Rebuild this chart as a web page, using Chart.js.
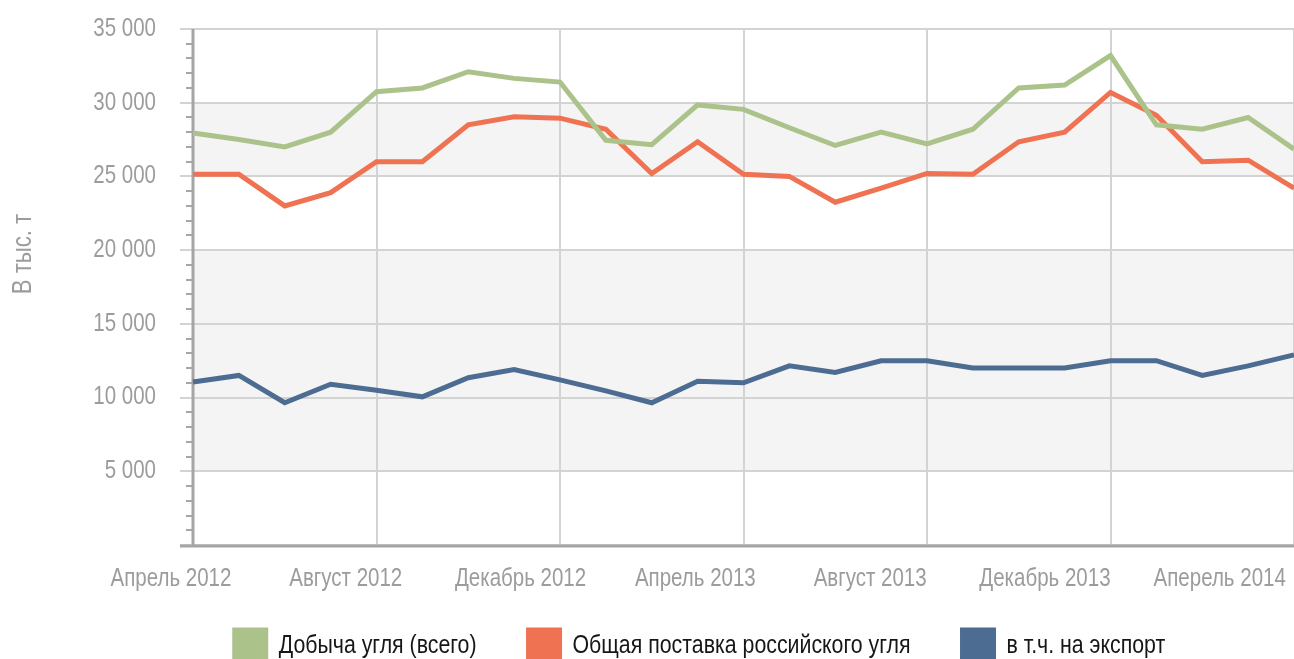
<!DOCTYPE html>
<html>
<head>
<meta charset="utf-8">
<script src="https://cdn.jsdelivr.net/npm/chart.js@4.4.1/dist/chart.umd.min.js"></script>
<style>
  html, body { margin: 0; padding: 0; background: #ffffff; width: 1294px; height: 659px; overflow: hidden; }
  #wrap { position: relative; width: 1400px; height: 671px; }
</style>
</head>
<body>
<div id="wrap"><canvas id="chart" width="1400" height="671"></canvas></div>
<script>
// ---- Data ----
const months = [
  'Апрель 2012', 'Май 2012', 'Июнь 2012', 'Июль 2012', 'Август 2012', 'Сентябрь 2012',
  'Октябрь 2012', 'Ноябрь 2012', 'Декабрь 2012', 'Январь 2013', 'Февраль 2013', 'Март 2013',
  'Апрель 2013', 'Май 2013', 'Июнь 2013', 'Июль 2013', 'Август 2013', 'Сентябрь 2013',
  'Октябрь 2013', 'Ноябрь 2013', 'Декабрь 2013', 'Январь 2014', 'Февраль 2014', 'Март 2014',
  'Апрель 2014'
];
const xTickLabels = ['Апрель 2012', 'Август 2012', 'Декабрь 2012', 'Апрель 2013', 'Август 2013', 'Декабрь 2013', 'Аперель 2014'];
const yTickValues = [0, 5000, 10000, 15000, 20000, 25000, 30000, 35000];
const yTickLabels = ['', '5 000', '10 000', '15 000', '20 000', '25 000', '30 000', '35 000'];
const yAxisTitle = 'В тыс. т';
const seriesNames = ['Добыча угля (всего)', 'Общая поставка российского угля', 'в т.ч. на экспорт'];

const production = [27950, 27500, 27000, 28000, 30750, 31000, 32100, 31650, 31400, 27450, 27150, 29850,
                    29550, 28300, 27100, 28000, 27200, 28200, 31000, 31200, 33200, 28500, 28200, 29000, 26850];
const supply     = [25150, 25150, 23000, 23900, 26000, 26000, 28500, 29050, 28950, 28200, 25200, 27350,
                    25150, 25000, 23250, 24200, 25200, 25150, 27350, 28000, 30700, 29150, 26000, 26100, 24200];
const exportVals = [11050, 11500, 9650, 10900, 10500, 10050, 11350, 11900, 11200, 10450, 9650, 11100,
                    11000, 12150, 11700, 12500, 12500, 12000, 12000, 12000, 12500, 12500, 11500, 12150, 12900];

const shadedBands = [[25000, 30000], [5000, 20000]];
const minorStep = 1000;

// ---- Style ----
const FONT = '"Liberation Sans", Arial, sans-serif';
const TEXT_CONDENSE = 0.82;   // emulate a narrow face
const GRID = '#d3d3d3';
const AXIS = '#a5a5a5';
const LABEL = '#9c9c9c';
const COLORS = ['#abc38b', '#ef7352', '#4d6c92'];

const canvas = document.getElementById('chart');
const ctx2d = canvas.getContext('2d');
const nativeFill = CanvasRenderingContext2D.prototype.fillText;
const nativeMeasure = CanvasRenderingContext2D.prototype.measureText;
ctx2d.fillText = function (text, x, y, maxWidth) {
  this.save();
  this.translate(x, y);
  this.scale(TEXT_CONDENSE, 1);
  if (maxWidth === undefined) nativeFill.call(this, text, 0, 0);
  else nativeFill.call(this, text, 0, 0, maxWidth / TEXT_CONDENSE);
  this.restore();
};
ctx2d.measureText = function (text) {
  const m = nativeMeasure.call(this, text);
  return {
    width: m.width * TEXT_CONDENSE,
    actualBoundingBoxAscent: m.actualBoundingBoxAscent,
    actualBoundingBoxDescent: m.actualBoundingBoxDescent,
    actualBoundingBoxLeft: m.actualBoundingBoxLeft * TEXT_CONDENSE,
    actualBoundingBoxRight: m.actualBoundingBoxRight * TEXT_CONDENSE
  };
};

const decor = {
  id: 'decor',
  beforeDraw(chart) {
    const {ctx, chartArea: a, scales: {y}} = chart;
    ctx.save();
    ctx.fillStyle = '#f4f4f4';
    shadedBands.forEach(([lo, hi]) => {
      const y1 = y.getPixelForValue(hi), y2 = y.getPixelForValue(lo);
      ctx.fillRect(a.left, y1, a.right - a.left, y2 - y1);
    });
    ctx.restore();
  },
  beforeDatasetsDraw(chart) {
    const {ctx, chartArea: a, scales: {y}} = chart;
    ctx.save();
    ctx.strokeStyle = AXIS;
    ctx.lineWidth = 2;
    for (let v = minorStep; v < y.max; v += minorStep) {
      if (v % 5000 === 0) continue;
      const py = Math.round(y.getPixelForValue(v));
      ctx.beginPath();
      ctx.moveTo(a.left - 7, py);
      ctx.lineTo(a.left, py);
      ctx.stroke();
    }
    ctx.lineWidth = 3;
    ctx.beginPath();
    ctx.moveTo(a.left, a.top);
    ctx.lineTo(a.left, a.bottom + 1);
    ctx.stroke();
    ctx.beginPath();
    ctx.moveTo(a.left - 13, a.bottom + 1);
    ctx.lineTo(a.right, a.bottom + 1);
    ctx.stroke();
    ctx.restore();
  },
  afterDraw(chart) {
    const {ctx, chartArea: a} = chart;
    ctx.save();
    ctx.translate(a.left - 169, a.top + 225);
    ctx.rotate(-Math.PI / 2);
    ctx.font = '27px ' + FONT;
    ctx.fillStyle = LABEL;
    ctx.textAlign = 'center';
    ctx.textBaseline = 'middle';
    ctx.fillText(yAxisTitle, 0, 0);
    ctx.restore();
  }
};

const mk = (label, data, color) => ({
  label, data,
  borderColor: color, backgroundColor: color,
  borderWidth: 5, pointRadius: 0, pointHoverRadius: 0,
  tension: 0, fill: false, xAxisID: 'x', yAxisID: 'y',
  borderJoinStyle: 'miter'
});

new Chart(canvas, {
  type: 'line',
  data: {
    labels: months,
    datasets: [
      mk(seriesNames[0], production, COLORS[0]),
      mk(seriesNames[1], supply, COLORS[1]),
      mk(seriesNames[2], exportVals, COLORS[2])
    ]
  },
  options: {
    responsive: false,
    animation: false,
    devicePixelRatio: 1,
    layout: { padding: { top: 29, left: 0, right: 0, bottom: 0 } },
    plugins: {
      tooltip: { enabled: false },
      title: { display: false },
      legend: {
        display: true,
        position: 'bottom',
        align: 'center',
        labels: {
          boxWidth: 31, boxHeight: 31, padding: 52,
          color: '#161616',
          font: { family: FONT, size: 26 }
        }
      }
    },
    scales: {
      x: {
        type: 'category',
        position: 'bottom',
        grid: {
          color: (c) => (c.index % 4 === 0 ? GRID : 'rgba(0,0,0,0)'),
          lineWidth: 2, drawTicks: false
        },
        border: { display: false },
        ticks: { display: false, autoSkip: false },
        afterFit: (s) => { s.height = 0; s.paddingLeft = 0; s.paddingRight = 0; }
      },
      xLabels: {
        type: 'linear',
        position: 'bottom',
        min: 0.126, max: 6.425,
        grid: { display: false, drawTicks: false },
        border: { display: false },
        ticks: {
          autoSkip: false, maxRotation: 0, mirror: true, padding: -49,
          color: LABEL, font: { family: FONT, size: 25 },
          callback: (v) => (xTickLabels[v] !== undefined ? xTickLabels[v] : '')
        },
        afterBuildTicks: (s) => { s.ticks = xTickLabels.map((_, i) => ({ value: i })); },
        afterFit: (s) => { s.height = 33; s.paddingLeft = 0; s.paddingRight = 0; }
      },
      y: {
        type: 'linear',
        position: 'left',
        min: 0, max: 35000,
        grid: { color: GRID, lineWidth: 2, tickLength: 13, drawTicks: true },
        border: { display: false },
        ticks: {
          padding: 24, color: LABEL, font: { family: FONT, size: 25 },
          callback: (v, i) => yTickLabels[i]
        },
        afterBuildTicks: (s) => { s.ticks = yTickValues.map((v) => ({ value: v })); },
        afterFit: (s) => { s.width = 193; s.paddingTop = 0; s.paddingBottom = 0; }
      },
      yRight: {
        type: 'linear',
        position: 'right',
        display: true,
        grid: { display: false, drawTicks: false },
        border: { display: false },
        ticks: { display: false },
        afterFit: (s) => { s.width = 106; s.paddingTop = 0; s.paddingBottom = 0; }
      }
    }
  },
  plugins: [decor]
});
</script>
</body>
</html>
